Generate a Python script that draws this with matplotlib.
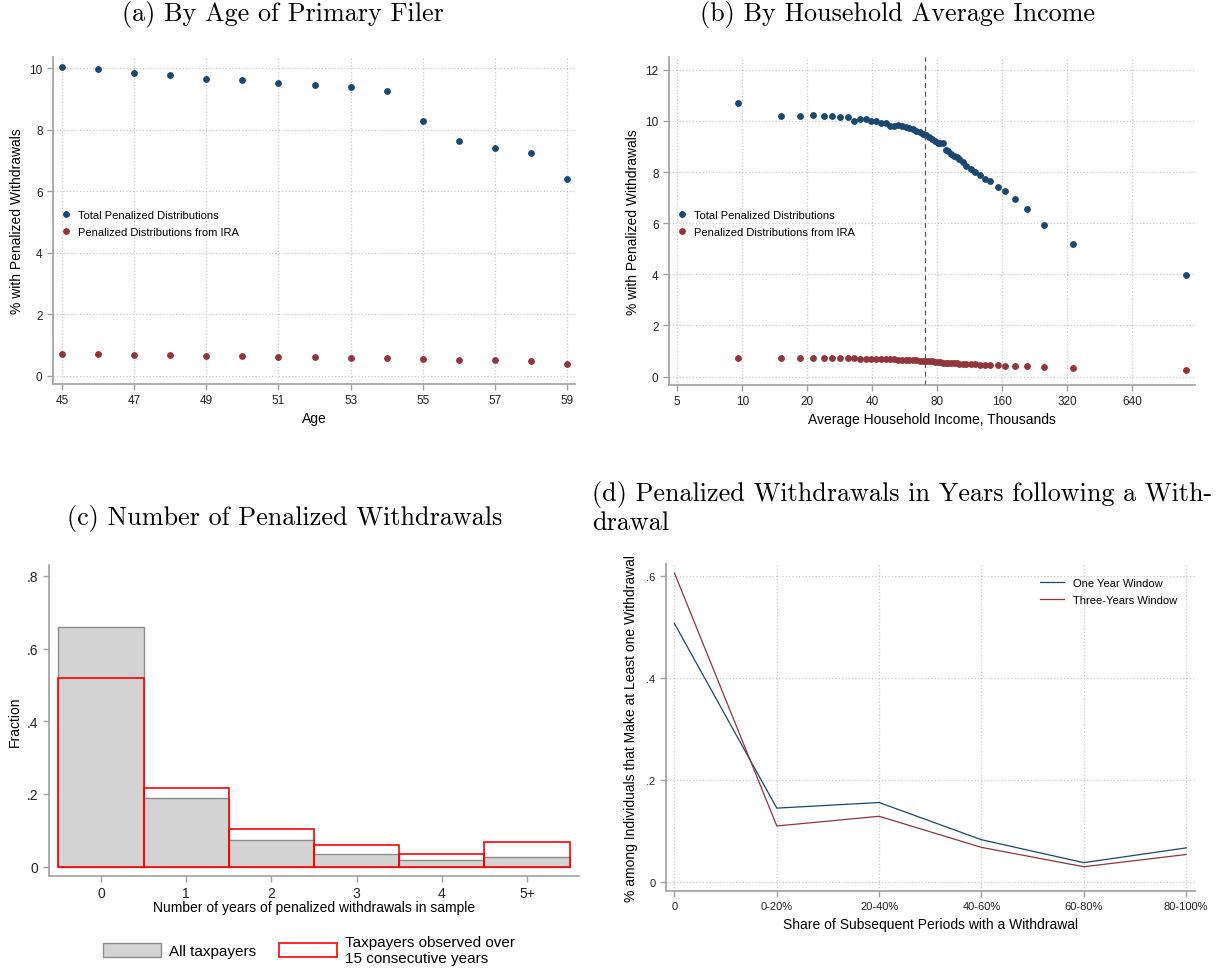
import matplotlib
matplotlib.use("Agg")
import matplotlib.pyplot as plt
from matplotlib.patches import Patch

# panel (a): by age
ages = [45, 46, 47, 48, 49, 50, 51, 52, 53, 54, 55, 56, 57, 58, 59]
age_total = [10.03, 9.96, 9.85, 9.77, 9.66, 9.62, 9.52, 9.44, 9.37, 9.25, 8.27, 7.62, 7.40, 7.23, 6.41]
age_ira = [0.70, 0.69, 0.68, 0.66, 0.65, 0.64, 0.61, 0.60, 0.58, 0.56, 0.54, 0.52, 0.50, 0.47, 0.39]

# panel (b): by household income (thousands)
income = [9.6, 15.1, 18.5, 21.3, 23.9, 26.2, 28.5, 30.9, 32.9, 35.3, 37.3, 39.5, 41.7, 44.1,
          46.2, 48.2, 50.5, 52.8, 55.0, 57.3, 59.6, 61.8, 64.1, 66.4, 68.8, 71.0, 73.4, 75.8,
          78.3, 80.6, 82.9, 85.3, 87.8, 90.4, 93.0, 95.7, 98.5, 101, 105, 109, 115, 120, 126,
          133, 141, 153, 165, 184, 210, 250, 343, 1145]
inc_total = [10.71, 10.20, 10.20, 10.24, 10.18, 10.21, 10.14, 10.17, 10.01, 10.08, 10.08, 10.00,
             10.00, 9.91, 9.91, 9.82, 9.80, 9.84, 9.79, 9.78, 9.73, 9.69, 9.62, 9.56, 9.49, 9.46,
             9.39, 9.31, 9.20, 9.15, 9.15, 9.14, 8.88, 8.81, 8.69, 8.61, 8.58, 8.52, 8.38, 8.22,
             8.12, 7.99, 7.90, 7.73, 7.66, 7.41, 7.27, 6.93, 6.55, 5.93, 5.20, 3.98]
inc_ira = [0.73, 0.745, 0.745, 0.74, 0.73, 0.73, 0.72, 0.72, 0.71, 0.70, 0.70, 0.69,
           0.69, 0.68, 0.68, 0.67, 0.67, 0.66, 0.66, 0.65, 0.65, 0.64, 0.63, 0.62, 0.61, 0.60,
           0.60, 0.59, 0.58, 0.57, 0.56, 0.55, 0.55, 0.54, 0.53, 0.53, 0.52, 0.51, 0.50, 0.49,
           0.49, 0.48, 0.47, 0.46, 0.46, 0.45, 0.43, 0.42, 0.40, 0.38, 0.33, 0.26]
median_income = 70.5

# panel (c): number of penalized withdrawal years
n_years = ["0", "1", "2", "3", "4", "5+"]
frac_all = [0.659, 0.189, 0.072, 0.035, 0.018, 0.027]
frac_15 = [0.518, 0.215, 0.104, 0.059, 0.035, 0.067]

# panel (d): withdrawals in following years
shares = ["0", "0-20%", "20-40%", "40-60%", "60-80%", "80-100%"]
one_year = [0.507, 0.145, 0.156, 0.083, 0.038, 0.067]
three_years = [0.606, 0.110, 0.129, 0.068, 0.030, 0.054]

BLUE = "#1a476f"
RED = "#90353b"
W, H = 1216, 970

fig = plt.figure(figsize=(W / 100, H / 100), dpi=100)
plt.rcParams["font.family"] = ["Liberation Sans", "DejaVu Sans"]


def make_ax(left, top, right, bottom):
    return fig.add_axes([left / W, 1 - bottom / H, (right - left) / W, (bottom - top) / H])


def stata_style(ax, grid=True):
    for s in ["top", "right"]:
        ax.spines[s].set_visible(False)
    for s in ["left", "bottom"]:
        ax.spines[s].set_color("#a0a0a0")
        ax.spines[s].set_linewidth(1.2)
    ax.tick_params(colors="#a0a0a0", labelcolor="#222222", labelsize=8.5, length=4, width=1)
    if grid:
        ax.grid(True, linestyle=":", color="#c8c8c8", linewidth=0.9)
        ax.set_axisbelow(True)


title_kw = dict(family="cmr10", fontsize=18.8, color="black")

# (a)
ax = make_ax(53, 58, 575, 385)
stata_style(ax)
ax.plot(ages, age_total, "o", color=BLUE, ms=3.9, label="Total Penalized Distributions")
ax.plot(ages, age_ira, "o", color=RED, ms=3.9, label="Penalized Distributions from IRA")
ax.set_xlim(44.75, 59.22)
ax.set_ylim(-0.27, 10.36)
ax.set_xticks(range(45, 60, 2))
ax.set_yticks(range(0, 11, 2))
ax.set_xlabel("Age", fontsize=10, labelpad=3)
ax.set_ylabel("% with Penalized Withdrawals", fontsize=10, labelpad=4)
ax.legend(loc="upper left", bbox_to_anchor=(-0.005, 0.546), frameon=False, fontsize=8,
          handletextpad=0.1, labelspacing=0.6, borderaxespad=0.0)
fig.text(283 / W, 1 - 15 / H, "(a) By Age of Primary Filer", ha="center", va="center", **title_kw)

# (b)
ax = make_ax(669, 58, 1195, 386)
stata_style(ax)
ax.set_xscale("log", base=2)
ax.plot(income, inc_total, "o", color=BLUE, ms=3.9, label="Total Penalized Distributions")
ax.plot(income, inc_ira, "o", color=RED, ms=3.9, label="Penalized Distributions from IRA")
ax.axvline(median_income, color="#555555", linestyle=(0, (4, 3)), linewidth=0.9)
xt = [5, 10, 20, 40, 80, 160, 320, 640]
ax.set_xticks(xt)
ax.set_xticklabels([str(v) for v in xt])
ax.minorticks_off()
ax.set_xlim(4.58, 1255)
ax.set_ylim(-0.33, 12.5)
ax.set_yticks(range(0, 13, 2))
ax.set_xlabel("Average Household Income, Thousands", fontsize=10, labelpad=3)
ax.set_ylabel("% with Penalized Withdrawals", fontsize=10, labelpad=4)
ax.legend(loc="upper left", bbox_to_anchor=(-0.005, 0.546), frameon=False, fontsize=8,
          handletextpad=0.1, labelspacing=0.6, borderaxespad=0.0)
fig.text(897 / W, 1 - 15 / H, "(b) By Household Average Income", ha="center", va="center", **title_kw)

# (c)
ax = make_ax(49, 566, 579, 877)
stata_style(ax, grid=False)
pos = list(range(len(n_years)))
ax.bar(pos, frac_all, width=1.0, color="#d3d3d3", edgecolor="#8c8c8c", linewidth=1.0)
ax.bar(pos, frac_15, width=1.0, facecolor="none", edgecolor="#ff0000", linewidth=1.2)
ax.set_xticks(pos)
ax.set_xticklabels(n_years)
ax.set_xlim(-0.61, 5.61)
ax.set_ylim(-0.026, 0.83)
ax.set_yticks([0, 0.2, 0.4, 0.6, 0.8])
ax.set_yticklabels(["0", ".2", ".4", ".6", ".8"])
ax.tick_params(labelsize=10)
ax.set_xlabel("Number of years of penalized withdrawals in sample", fontsize=10, labelpad=0)
ax.set_ylabel("Fraction", fontsize=10, labelpad=4)
handles = [Patch(facecolor="#d3d3d3", edgecolor="#8c8c8c", linewidth=1.0),
           Patch(facecolor="white", edgecolor="#ff0000", linewidth=1.2)]
fig.legend(handles, ["All taxpayers", "Taxpayers observed over\n15 consecutive years"],
           loc="center", bbox_to_anchor=(309 / W, 1 - 951 / H), ncol=2, frameon=False,
           fontsize=11, handlelength=3.8, handleheight=1.05, columnspacing=1.5,
           handletextpad=0.52, borderpad=0, borderaxespad=0)
fig.text(285 / W, 1 - 519 / H, "(c) Number of Penalized Withdrawals", ha="center", va="center", **title_kw)

# (d)
ax = make_ax(666, 565, 1195, 892)
stata_style(ax)
pos = list(range(len(shares)))
ax.plot(pos, one_year, color=BLUE, linewidth=0.9, label="One Year Window")
ax.plot(pos, three_years, color=RED, linewidth=0.9, label="Three-Years Window")
ax.set_xticks(pos)
ax.set_xticklabels(shares, fontsize=8)
ax.set_xlim(-0.083, 5.087)
ax.set_ylim(-0.0176, 0.624)
ax.set_yticks([0, 0.2, 0.4, 0.6])
ax.set_yticklabels(["0", ".2", ".4", ".6"], fontsize=8)
ax.set_xlabel("Share of Subsequent Periods with a Withdrawal", fontsize=10, labelpad=4)
ax.set_ylabel("% among Individuals that Make at Least one Withdrawal", fontsize=10, labelpad=6)
ax.legend(loc="upper right", frameon=False, fontsize=8, handlelength=2.2,
          bbox_to_anchor=(0.985, 0.988), labelspacing=0.6)
fig.text(592 / W, 1 - 508 / H,
         "(d) Penalized Withdrawals in Years following a With-\ndrawal",
         ha="left", va="center", linespacing=1.2, **title_kw)

fig.savefig("out.png", dpi=100)
